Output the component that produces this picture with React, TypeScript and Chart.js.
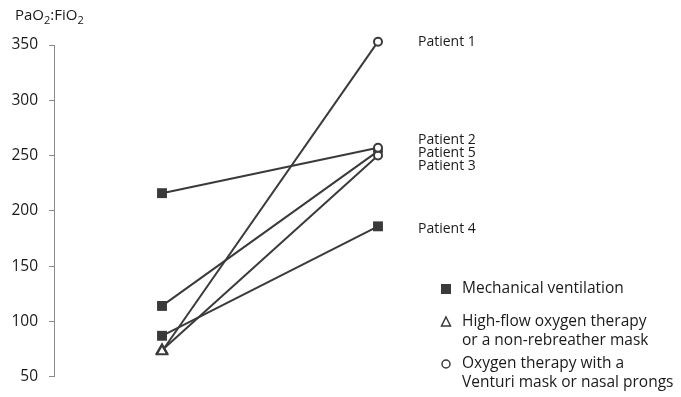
import React, { useEffect, useRef } from "react";
import { Chart, registerables } from "chart.js";

Chart.register(...registerables);

const timePoints = [1, 2];
const patients = ["Patient 1", "Patient 2", "Patient 3", "Patient 4", "Patient 5"];
const before = [73, 216, 74, 87, 114];
const after = [353, 257, 250, 186, 254];
const beforeStyle = ["triangle", "rect", "triangle", "rect", "rect"];
const afterStyle = ["circle", "circle", "circle", "rect", "circle"];
const yTicks = [50, 100, 150, 200, 250, 300, 350];
const legendLabels = [
  ["Mechanical ventilation"],
  ["High-flow oxygen therapy", "or a non-rebreather mask"],
  ["Oxygen therapy with a", "Venturi mask or nasal prongs"],
];
const labelY = [42, 140, 166, 229, 153];

const INK = "#3a3a3a";
const TEXT = "#1a1a1a";
const FONT = "'Open Sans', 'Noto Sans', sans-serif";

function radiusFor(s: string) {
  if (s === "rect") return 7;
  if (s === "triangle") return 6;
  return 4;
}

const annotations = {
  id: "annotations",
  afterDraw(chart: any) {
    const ctx = chart.ctx;
    ctx.save();
    ctx.fillStyle = TEXT;
    ctx.textBaseline = "middle";
    ctx.textAlign = "left";
    ctx.font = `14px ${FONT}`;
    patients.forEach((p, i) => {
      ctx.fillText(p, 418, labelY[i]);
    });

    // y axis title PaO2:FiO2
    let x = 15;
    const base = 20;
    ctx.textBaseline = "alphabetic";
    const parts: [string, boolean][] = [["PaO", false], ["2", true], [":FiO", false], ["2", true]];
    parts.forEach(([t, sub]) => {
      ctx.font = sub ? `11px ${FONT}` : `15px ${FONT}`;
      ctx.fillText(t, x, sub ? base + 4 : base);
      x += ctx.measureText(t).width;
    });

    // legend
    ctx.font = `15.5px ${FONT}`;
    ctx.textBaseline = "middle";
    const rows = [289, 322, 364];
    legendLabels.forEach((lines, i) => {
      const y = rows[i];
      lines.forEach((l, j) => ctx.fillText(l, 462, y + j * 19));
      ctx.strokeStyle = INK;
      ctx.fillStyle = INK;
      ctx.lineWidth = 1.5;
      if (i === 0) {
        ctx.fillRect(441, y - 5, 10, 10);
      } else if (i === 1) {
        ctx.beginPath();
        ctx.moveTo(446, y - 5);
        ctx.lineTo(450.5, y + 4);
        ctx.lineTo(441.5, y + 4);
        ctx.closePath();
        ctx.stroke();
      } else {
        ctx.beginPath();
        ctx.arc(446, y, 4, 0, Math.PI * 2);
        ctx.stroke();
      }
      ctx.fillStyle = TEXT;
    });
    ctx.restore();
  },
};

export default function App() {
  const ref = useRef<HTMLCanvasElement>(null);
  useEffect(() => {
    if (!ref.current) return;
    const datasets = patients.map((p, i) => {
      const styles = [beforeStyle[i], afterStyle[i]];
      return {
        label: p,
        data: timePoints.map((t, k) => ({ x: t, y: k === 0 ? before[i] : after[i] })),
        borderColor: INK,
        borderWidth: 2,
        pointStyle: styles,
        pointRadius: styles.map(radiusFor),
        pointBackgroundColor: styles.map((s) => (s === "rect" ? INK : "#ffffff")),
        pointBorderColor: INK,
        pointBorderWidth: styles.map((s) => (s === "rect" ? 0 : 2)),
        showLine: true,
        clip: false,
      };
    });
    const chart = new Chart(ref.current, {
      type: "scatter",
      data: { datasets: datasets as any },
      options: {
        responsive: false,
        animation: false,
        layout: { padding: { top: 45, bottom: 16, left: 0, right: 87 } },
        plugins: { legend: { display: false }, tooltip: { enabled: false } },
        scales: {
          x: { type: "linear", min: 0.5, max: 3, display: false },
          y: {
            type: "linear",
            min: 50,
            max: 350,
            afterBuildTicks: (s: any) => {
              s.ticks = yTicks.map((v) => ({ value: v }));
            },
            afterFit: (s: any) => {
              s.width = 54;
            },
            ticks: {
              color: TEXT,
              font: { size: 15.5, family: FONT },
              padding: 11,
            },
            grid: { drawOnChartArea: false, drawTicks: true, tickLength: 5, color: "#8a8a8a" },
            border: { display: true, color: "#8a8a8a", width: 1 },
          },
        },
      },
      plugins: [annotations],
    });
    return () => chart.destroy();
  }, []);
  return (
    <div style={{ position: "absolute", left: 0, top: 0, width: 681, height: 397, background: "#fff" }}>
      <canvas ref={ref} width={681} height={397} />
    </div>
  );
}
